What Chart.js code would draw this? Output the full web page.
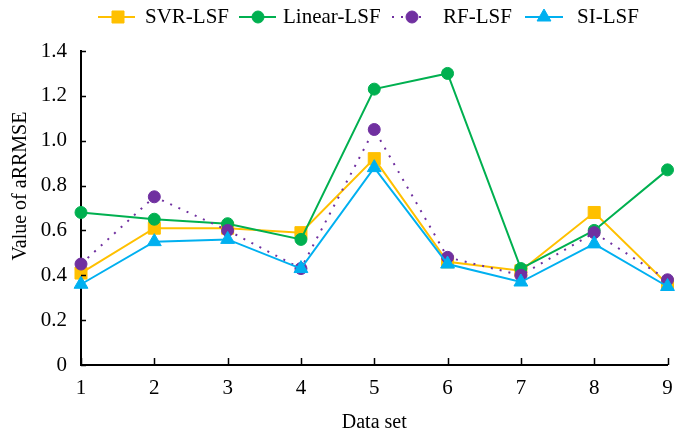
<!DOCTYPE html>
<html>
<head>
<meta charset="utf-8">
<script src="https://cdn.jsdelivr.net/npm/chart.js@4/dist/chart.umd.min.js"></script>
<style>
  html, body { margin: 0; padding: 0; background: #fff; }
  #wrap { width: 677px; height: 437px; }
</style>
</head>
<body>
<div id="wrap"><canvas id="aChart" width="677" height="437"></canvas></div>
<script>
// data
const dataSets = ['1', '2', '3', '4', '5', '6', '7', '8', '9'];
const svrLsf = [0.41, 0.61, 0.61, 0.59, 0.92, 0.46, 0.42, 0.68, 0.36];
const linearLsf = [0.68, 0.65, 0.63, 0.56, 1.23, 1.30, 0.43, 0.60, 0.87];
const rfLsf = [0.45, 0.75, 0.60, 0.43, 1.05, 0.48, 0.40, 0.59, 0.38];
const siLsf = [0.36, 0.55, 0.56, 0.43, 0.88, 0.45, 0.37, 0.54, 0.35];
const yTicks = [0, 0.2, 0.4, 0.6, 0.8, 1.0, 1.2, 1.4];

const FONT = "'Liberation Serif', 'Times New Roman', serif";

// legend positions (line start, line end, marker, text start)
const legendPos = [
    { x1: 98, x2: 135, mx: 118, tx: 145 },
    { x1: 239, x2: 276, mx: 258, tx: 283 },
    { x1: 392, x2: 423, mx: 412, tx: 443 },
    { x1: 525, x2: 563, mx: 544, tx: 577 }
];

function drawMarker(ctx, style, r, x, y, color) {
    ctx.save();
    ctx.fillStyle = color;
    ctx.strokeStyle = color;
    ctx.lineWidth = 1;
    if (Chart.helpers && Chart.helpers.drawPoint) {
        Chart.helpers.drawPoint(ctx, { pointStyle: style, radius: r, rotation: 0, borderWidth: 1 }, x, y);
    } else {
        ctx.beginPath();
        ctx.arc(x, y, r, 0, Math.PI * 2);
        ctx.fill();
    }
    ctx.restore();
}

const extrasPlugin = {
    id: 'extras',
    afterDraw(chart) {
        const ctx = chart.ctx;
        const area = chart.chartArea;
        const xs = chart.scales.x, ys = chart.scales.y;

        // inward tick marks
        ctx.save();
        ctx.strokeStyle = '#000';
        ctx.lineWidth = 1.5;
        ctx.beginPath();
        yTicks.forEach(v => {
            const py = Math.round(ys.getPixelForValue(v)) + 0.5;
            ctx.moveTo(area.left, py);
            ctx.lineTo(area.left + 5, py);
        });
        dataSets.forEach((d, i) => {
            const px = Math.round(xs.getPixelForValue(i)) + 0.5;
            ctx.moveTo(px, area.bottom);
            ctx.lineTo(px, area.bottom - 7);
        });
        ctx.stroke();
        ctx.restore();

        // y axis title
        ctx.save();
        ctx.translate(21, 186);
        ctx.rotate(-Math.PI / 2);
        ctx.font = '20px ' + FONT;
        ctx.fillStyle = '#000';
        ctx.textAlign = 'center';
        ctx.textBaseline = 'middle';
        ctx.fillText('Value of aRRMSE', 0, 0);
        ctx.restore();

        // legend
        const ly = 17;
        chart.data.datasets.forEach((ds, i) => {
            const p = legendPos[i];
            ctx.save();
            ctx.strokeStyle = ds.borderColor;
            ctx.lineWidth = ds.borderWidth;
            if (ds.borderDash) ctx.setLineDash(ds.borderDash);
            ctx.beginPath();
            ctx.moveTo(p.x1, ly);
            ctx.lineTo(p.x2, ly);
            ctx.stroke();
            ctx.restore();
            drawMarker(ctx, ds.pointStyle, ds.pointRadius, p.mx, ly, ds.pointBackgroundColor);
            ctx.save();
            ctx.font = '21px ' + FONT;
            ctx.fillStyle = '#000';
            ctx.textBaseline = 'middle';
            ctx.fillText(ds.label, p.tx, ly);
            ctx.restore();
        });
    }
};

function series(label, data, color, style, radius, dash, order) {
    return {
        label: label,
        data: data,
        borderColor: color,
        backgroundColor: color,
        pointBackgroundColor: color,
        pointBorderColor: color,
        pointStyle: style,
        pointRadius: radius,
        pointHoverRadius: radius,
        pointBorderWidth: 1,
        borderWidth: 2,
        borderDash: dash,
        tension: 0,
        fill: false,
        clip: false,
        order: order
    };
}

const ctx = document.getElementById('aChart').getContext('2d');
new Chart(ctx, {
    type: 'line',
    data: {
        labels: dataSets,
        datasets: [
            series('SVR-LSF', svrLsf, '#FFC000', 'rect', 8.5, undefined, 4),
            series('Linear-LSF', linearLsf, '#00B050', 'circle', 6, undefined, 3),
            series('RF-LSF', rfLsf, '#7030A0', 'circle', 6, [2, 7], 2),
            series('SI-LSF', siLsf, '#00B0F0', 'triangle', 8, undefined, 1)
        ]
    },
    options: {
        responsive: false,
        animation: false,
        devicePixelRatio: 1,
        layout: { padding: { top: 51, right: 3, left: 0, bottom: 0 } },
        plugins: {
            legend: { display: false },
            tooltip: { enabled: false }
        },
        scales: {
            x: {
                type: 'category',
                offset: false,
                grid: { display: false, drawTicks: false },
                border: { display: true, color: '#000', width: 2 },
                ticks: { color: '#000', padding: 11, font: { family: FONT, size: 21 }, maxRotation: 0 },
                title: { display: true, text: 'Data set', color: '#000', font: { family: FONT, size: 20 }, padding: { top: 0, bottom: 2 } },
                afterFit(scale) {
                    scale.height = 72;
                    scale.paddingRight = 7;
                    scale.paddingLeft = 7;
                }
            },
            y: {
                min: 0,
                max: 1.4,
                grid: { display: false, drawTicks: false },
                border: { display: true, color: '#000', width: 2 },
                ticks: {
                    color: '#000',
                    padding: 14,
                    stepSize: 0.2,
                    font: { family: FONT, size: 21 },
                    callback: v => (Math.abs(v) < 1e-9 ? '0' : v.toFixed(1))
                },
                afterFit(scale) { scale.width = 81; }
            }
        }
    },
    plugins: [extrasPlugin]
});
</script>
</body>
</html>
